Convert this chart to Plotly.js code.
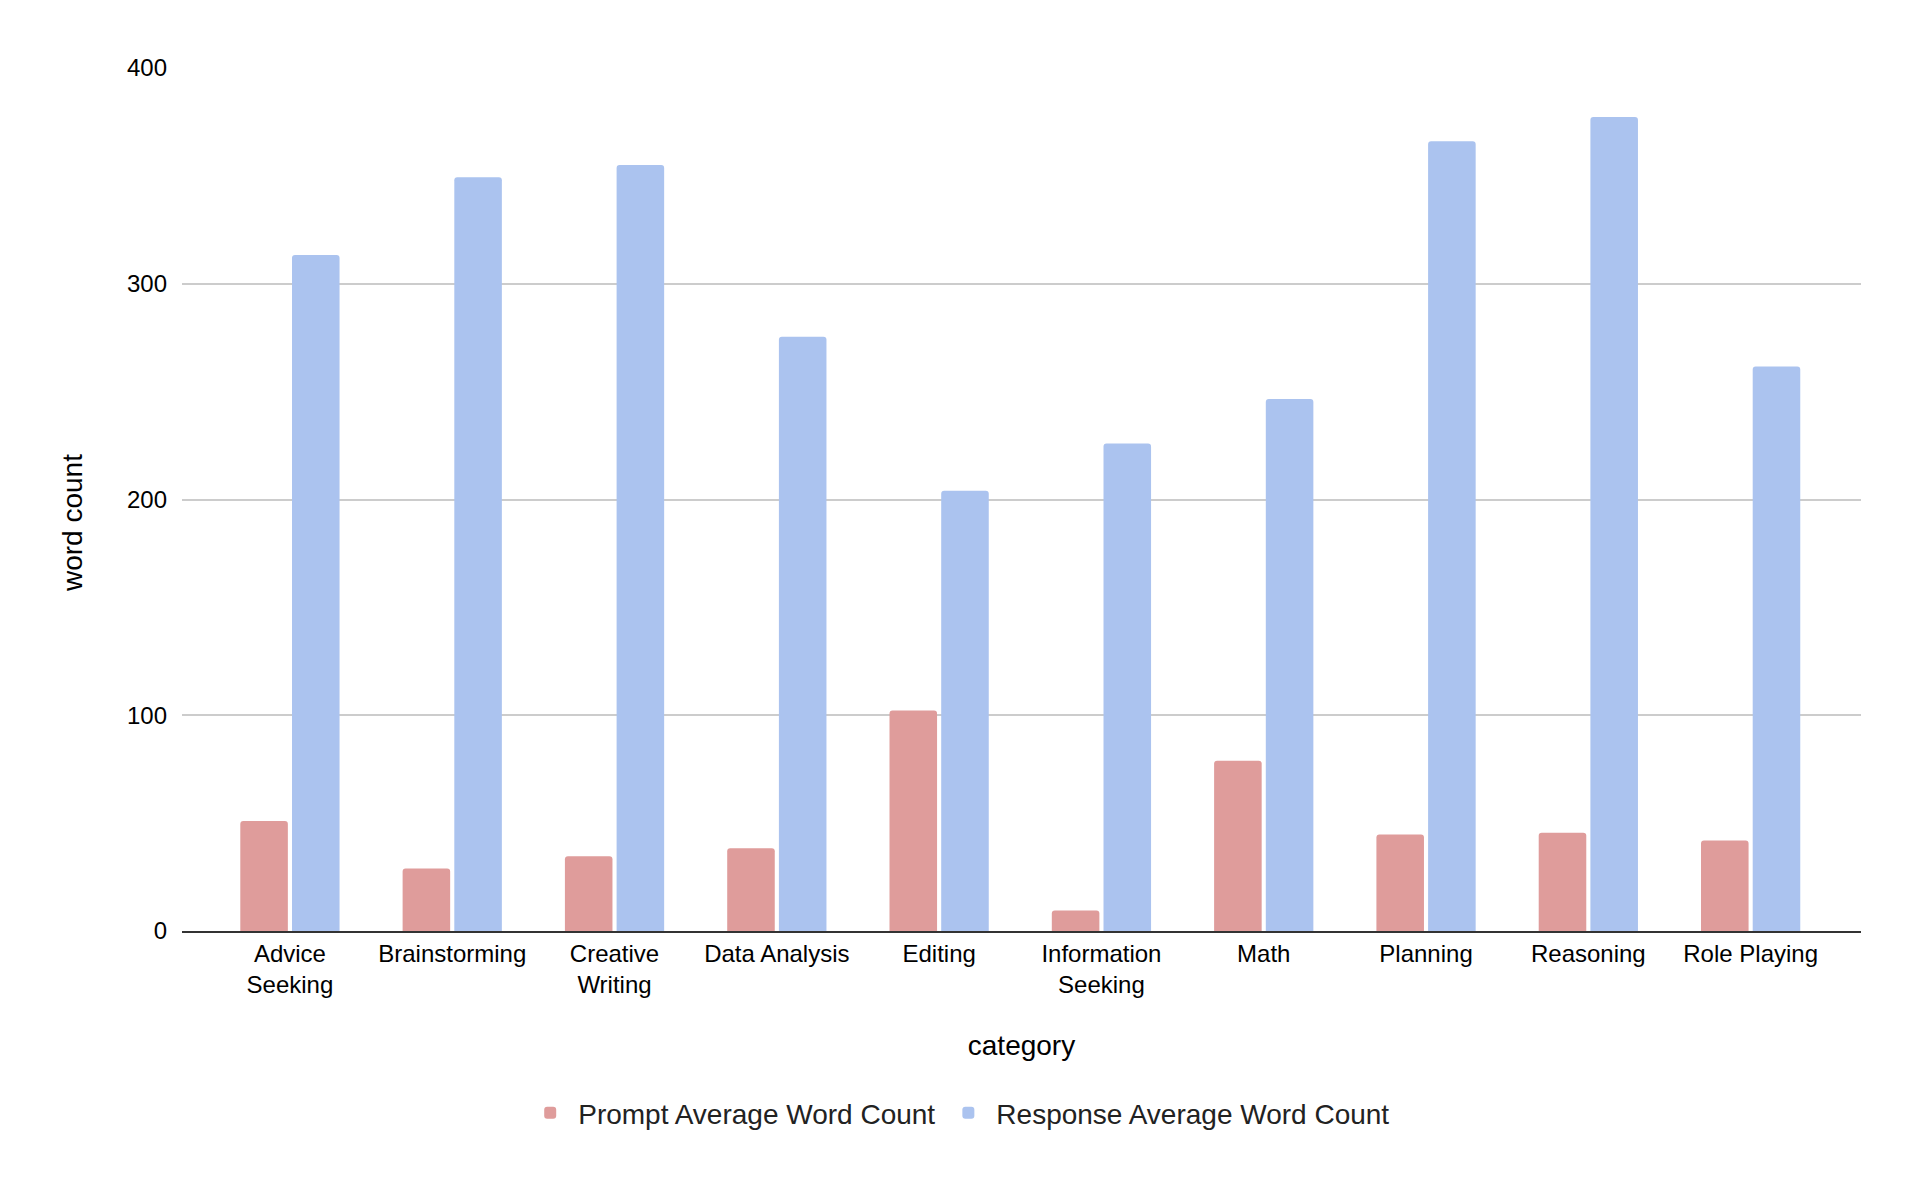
<!DOCTYPE html>
<html>
<head>
<meta charset="utf-8">
<script src="https://cdn.plot.ly/plotly-3.0.1.min.js"></script>
<style>html,body{margin:0;padding:0;background:#fff;}#chart{width:1918px;height:1186px;}</style>
</head>
<body>
<div id="chart"></div>
<script>
const categories = ["Advice<br>Seeking", "Brainstorming", "Creative<br>Writing", "Data Analysis", "Editing", "Information<br>Seeking", "Math", "Planning", "Reasoning", "Role Playing"];
const promptAvg = [51, 29, 34.6, 38.3, 102.2, 9.5, 78.9, 44.7, 45.5, 41.9];
const responseAvg = [313.3, 349.4, 355, 275.4, 204, 226, 246.6, 366.1, 377.3, 261.6];
const seriesNames = ["Prompt Average Word Count", "Response Average Word Count"];
const seriesColors = ["#df9c9b", "#abc3ef"];
const yTicks = [0, 100, 200, 300, 400];

const font = "Arial, 'Liberation Sans', sans-serif";
const traces = [
  {type: "bar", name: seriesNames[0], x: categories, y: promptAvg, marker: {color: seriesColors[0], cornerradius: 3}, hoverinfo: "x+y+name"},
  {type: "bar", name: seriesNames[1], x: categories, y: responseAvg, marker: {color: seriesColors[1], cornerradius: 3}, hoverinfo: "x+y+name"}
];
const layout = {
  width: 1918, height: 1186,
  paper_bgcolor: "#fff", plot_bgcolor: "#fff",
  margin: {l: 182, r: 57, t: 68, b: 255},
  font: {family: font, color: "#000"},
  barmode: "group", bargap: 0.363, bargroupgap: 0.08,
  showlegend: true,
  legend: {orientation: "h", x: 0.4626, xanchor: "center", y: -0.211, yanchor: "middle",
           font: {family: font, size: 28, color: "#222"}, itemwidth: 46, traceorder: "normal"},
  xaxis: {
    type: "category", range: [-0.665, 9.68],
    showgrid: false, showline: true, linecolor: "#333", linewidth: 2,
    ticks: "", tickfont: {family: font, size: 24, color: "#000"}, tickangle: 0,
    title: {text: "category", font: {family: font, size: 28, color: "#000"}, standoff: 38},
    automargin: false, fixedrange: true
  },
  yaxis: {
    range: [0, 400], tickvals: yTicks,
    showgrid: true, gridcolor: "#cccccc", gridwidth: 1.5, zeroline: false,
    showline: false, ticks: "", ticklabelstandoff: 14,
    tickfont: {family: font, size: 24, color: "#000"},
    automargin: false, fixedrange: true
  },
  annotations: [{
    text: "word count", xref: "paper", yref: "paper", x: -0.0649, y: 0.4728,
    xanchor: "center", yanchor: "middle", textangle: -90, showarrow: false,
    font: {family: font, size: 28, color: "#000"}
  }]
};
Plotly.newPlot("chart", traces, layout, {displayModeBar: false});
</script>
</body>
</html>
